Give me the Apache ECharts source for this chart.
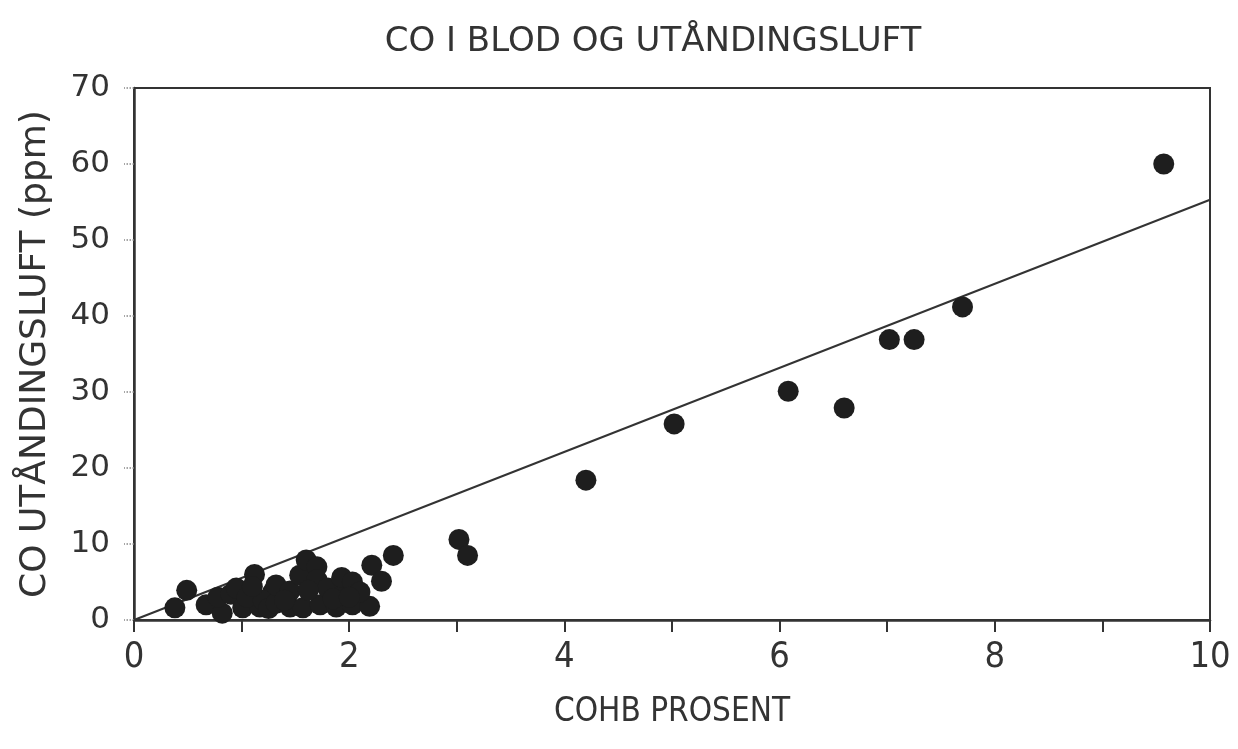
<!DOCTYPE html>
<html lang="no">
<head>
    <meta charset="UTF-8">
    <title>CO i blod og utåndingsluft</title>
    <script src="https://cdn.jsdelivr.net/npm/echarts@6.0.0/dist/echarts.min.js"></script>
    <style>
        body { margin: 0; background: #fff; }
        #chart { width: 1238px; height: 749px; }
    </style>
</head>
<body>
    <div id="chart"></div>
    <script>
        // measured points, COHB % vs CO in exhaled air (ppm)
        const cohb = [
            0.38, 0.49, 0.67, 0.82, 0.78, 0.90, 0.95, 1.12, 1.01, 1.17,
            1.29, 1.05, 1.20, 1.10, 1.25, 1.32, 1.45, 1.57, 1.73, 1.88,
            2.03, 2.19, 1.32, 1.45, 1.54, 1.60, 1.70, 1.70, 1.80, 1.94,
            1.93, 2.03, 2.10, 2.21, 2.30, 2.41, 1.40, 1.62, 1.85, 2.00,
            3.02, 3.10, 4.20, 5.02, 6.08, 6.60, 7.02, 7.25, 7.70, 9.57
        ];
        const coPpm = [
            1.6, 3.9, 2.0, 0.9, 3.0, 3.4, 4.2, 6.0, 1.6, 1.7,
            3.7, 3.0, 2.6, 4.4, 1.5, 2.2, 1.7, 1.6, 2.0, 1.7,
            2.0, 1.8, 4.6, 3.8, 5.9, 7.9, 7.0, 5.3, 4.2, 3.3,
            5.6, 5.0, 3.7, 7.2, 5.1, 8.5, 2.6, 3.9, 2.8, 3.0,
            10.6, 8.5, 18.4, 25.8, 30.1, 27.9, 36.9, 36.9, 41.2, 60.0
        ];
        // regression line end points
        const fitX = [0, 10];
        const fitY = [0, 55.3];

        const xTicks = [0, 2, 4, 6, 8, 10];

        const chart = echarts.init(document.getElementById('chart'));
        const wideFont = '"DejaVu Sans", Verdana, sans-serif';
        const narrowFont = '"DejaVu Sans Condensed", "Liberation Sans Narrow", "Liberation Sans", Arial, sans-serif';

        const option = {
            animation: false,
            title: {
                text: 'CO I BLOD OG UTÅNDINGSLUFT',
                left: 648,
                top: 20,
                textAlign: 'center',
                textStyle: {
                    fontFamily: wideFont,
                    fontSize: 34,
                    fontWeight: 'normal',
                    color: '#333'
                }
            },
            grid: {
                left: 134,
                right: 28,
                top: 88,
                bottom: 129,
                containLabel: false,
                show: true,
                borderColor: '#333',
                borderWidth: 2
            },
            xAxis: {
                type: 'value',
                min: 0,
                max: 10,
                interval: 1,
                name: 'COHB PROSENT',
                nameLocation: 'middle',
                nameGap: 76,
                nameTextStyle: {
                    fontFamily: narrowFont,
                    fontSize: 33,
                    color: '#333'
                },
                axisLine: { lineStyle: { color: '#333', width: 2.5 } },
                axisTick: { length: 12, lineStyle: { color: '#333', width: 2 } },
                axisLabel: {
                    margin: 20,
                    fontFamily: narrowFont,
                    fontSize: 36,
                    color: '#333',
                    formatter: function (v) {
                        return xTicks.indexOf(v) >= 0 ? String(v) : '';
                    }
                },
                splitLine: { show: false }
            },
            yAxis: {
                type: 'value',
                min: 0,
                max: 70,
                interval: 10,
                name: 'CO UTÅNDINGSLUFT (ppm)',
                nameLocation: 'middle',
                nameGap: 80,
                nameRotate: 90,
                nameTextStyle: {
                    fontFamily: wideFont,
                    fontSize: 36,
                    color: '#333'
                },
                axisLine: { lineStyle: { color: '#333', width: 2.5 } },
                axisTick: { length: 10, lineStyle: { color: '#888', width: 1.5, type: 'dotted' } },
                axisLabel: {
                    margin: 24,
                    fontFamily: wideFont,
                    fontSize: 31,
                    color: '#333'
                },
                splitLine: { show: false }
            },
            series: [
                {
                    name: 'fit',
                    type: 'line',
                    data: fitX.map((x, i) => [x, fitY[i]]),
                    showSymbol: false,
                    lineStyle: { color: '#333', width: 2 },
                    z: 2
                },
                {
                    name: 'målinger',
                    type: 'scatter',
                    data: cohb.map((x, i) => [x, coPpm[i]]),
                    symbol: 'circle',
                    symbolSize: 21,
                    itemStyle: { color: '#1e1e1e', opacity: 1 },
                    z: 3
                }
            ]
        };

        chart.setOption(option);
    </script>
</body>
</html>
